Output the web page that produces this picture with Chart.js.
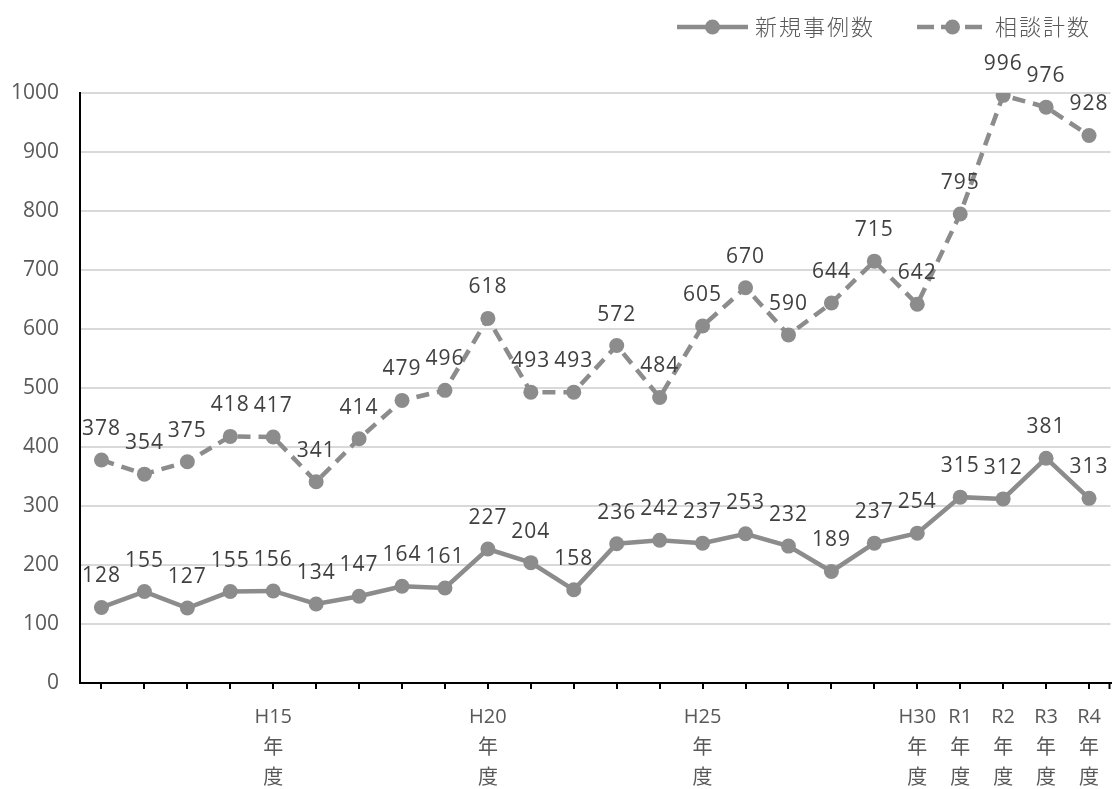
<!DOCTYPE html>
<html>
<head>
<meta charset="utf-8">
<script src="https://cdn.jsdelivr.net/npm/chart.js@4/dist/chart.umd.min.js"></script>
<style>
  html, body { margin: 0; padding: 0; background: #fff; }
  #wrap { position: relative; width: 1118px; height: 789px; }
</style>
</head>
<body>
<div id="wrap"><canvas id="c"></canvas></div>
<script>
// ---- data ----
const categories = [
  ["H11"],["H12"],["H13"],["H14"],["H15","年","度"],["H16"],["H17"],["H18"],["H19"],["H20","年","度"],
  ["H21"],["H22"],["H23"],["H24"],["H25","年","度"],["H26"],["H27"],["H28"],["H29"],["H30","年","度"],
  ["R1","年","度"],["R2","年","度"],["R3","年","度"],["R4","年","度"]
];
const shownLabels = ["H15","H20","H25","H30","R1","R2","R3","R4"];
const newCases = [128,155,127,155,156,134,147,164,161,227,204,158,236,242,237,253,232,189,237,254,315,312,381,313];
const consultations = [378,354,375,418,417,341,414,479,496,618,493,493,572,484,605,670,590,644,715,642,795,996,976,928];
const seriesNames = ["新規事例数","相談計数"];
const yTicks = {min: 0, max: 1000, step: 100};

const GRAY = '#8c8c8c';
const FONT = '"Open Sans", "Noto Sans CJK JP", sans-serif';
const CJK = '"Noto Sans CJK JP", sans-serif';

const tickLabels = categories.map(c => shownLabels.includes(c[0]) ? c : "");

const valueLabels = {
  id: 'valueLabels',
  afterDatasetsDraw(chart) {
    const ctx = chart.ctx;
    ctx.save();
    ctx.font = '21px ' + FONT;
    try { ctx.letterSpacing = '1px'; } catch (e) {}
    ctx.fillStyle = '#404040';
    ctx.textAlign = 'center';
    ctx.textBaseline = 'middle';
    chart.data.datasets.forEach((ds, i) => {
      chart.getDatasetMeta(i).data.forEach((pt, j) => {
        ctx.fillText(String(ds.data[j]), pt.x, pt.y - 31);
      });
    });
    ctx.restore();
  }
};

const customLegend = {
  id: 'customLegend',
  afterDraw(chart) {
    const ctx = chart.ctx;
    const area = chart.chartArea;
    ctx.save();
    // end tick on x axis
    ctx.strokeStyle = '#000';
    ctx.lineWidth = 2;
    ctx.beginPath();
    ctx.moveTo(area.right - 1, area.bottom);
    ctx.lineTo(area.right - 1, area.bottom + 6);
    ctx.stroke();

    const y = 27;
    const items = [
      {x0: 677, x1: 748, dashed: false, tx: 755, name: seriesNames[0]},
      {x0: 917, x1: 988, dashed: true, tx: 995, name: seriesNames[1]}
    ];
    items.forEach(it => {
      ctx.strokeStyle = GRAY;
      ctx.fillStyle = GRAY;
      ctx.lineWidth = 4.5;
      ctx.setLineDash(it.dashed ? [17, 7] : []);
      ctx.beginPath();
      ctx.moveTo(it.x0, y);
      ctx.lineTo(it.x1, y);
      ctx.stroke();
      ctx.setLineDash([]);
      ctx.beginPath();
      ctx.arc((it.x0 + it.x1) / 2, y, 7.5, 0, Math.PI * 2);
      ctx.fill();
      ctx.font = '300 22px ' + CJK;
      try { ctx.letterSpacing = '2px'; } catch (e) {}
      ctx.fillStyle = '#595959';
      ctx.textAlign = 'left';
      ctx.textBaseline = 'middle';
      ctx.fillText(it.name, it.tx, y);
    });
    ctx.restore();
  }
};

new Chart(document.getElementById('c'), {
  type: 'line',
  data: {
    labels: tickLabels,
    datasets: [
      {
        label: seriesNames[0],
        data: newCases,
        borderColor: GRAY,
        backgroundColor: GRAY,
        borderWidth: 4.5,
        pointRadius: 7.5,
        pointHoverRadius: 7.5,
        pointBackgroundColor: GRAY,
        pointBorderWidth: 0,
        tension: 0
      },
      {
        label: seriesNames[1],
        data: consultations,
        borderColor: GRAY,
        backgroundColor: GRAY,
        borderWidth: 4.5,
        borderDash: [13, 8],
        pointRadius: 7.5,
        pointHoverRadius: 7.5,
        pointBackgroundColor: GRAY,
        pointBorderWidth: 0,
        tension: 0
      }
    ]
  },
  options: {
    responsive: true,
    maintainAspectRatio: false,
    animation: false,
    layout: { padding: { top: 93, left: 0, right: 1, bottom: 0 } },
    plugins: {
      legend: { display: false },
      tooltip: { enabled: false }
    },
    scales: {
      x: {
        offset: true,
        grid: {
          display: true,
          drawOnChartArea: false,
          drawTicks: true,
          tickLength: 6,
          tickColor: '#000',
          lineWidth: 2,
          offset: false
        },
        border: { display: true, color: '#000', width: 2 },
        ticks: {
          autoSkip: false,
          maxRotation: 0,
          minRotation: 0,
          color: '#595959',
          padding: 13,
          font: { family: FONT, size: 20, lineHeight: 1.53 }
        },
        afterFit(scale) { scale.height = 106; }
      },
      y: {
        min: yTicks.min,
        max: yTicks.max,
        grid: {
          color: '#d9d9d9',
          lineWidth: 2,
          drawTicks: false
        },
        border: { display: true, color: '#000', width: 2 },
        ticks: {
          stepSize: yTicks.step,
          color: '#595959',
          padding: 21,
          font: { family: FONT, size: 21 },
          callback: v => String(v)
        },
        afterFit(scale) { scale.width = 80; }
      }
    }
  },
  plugins: [valueLabels, customLegend]
});
</script>
</body>
</html>
